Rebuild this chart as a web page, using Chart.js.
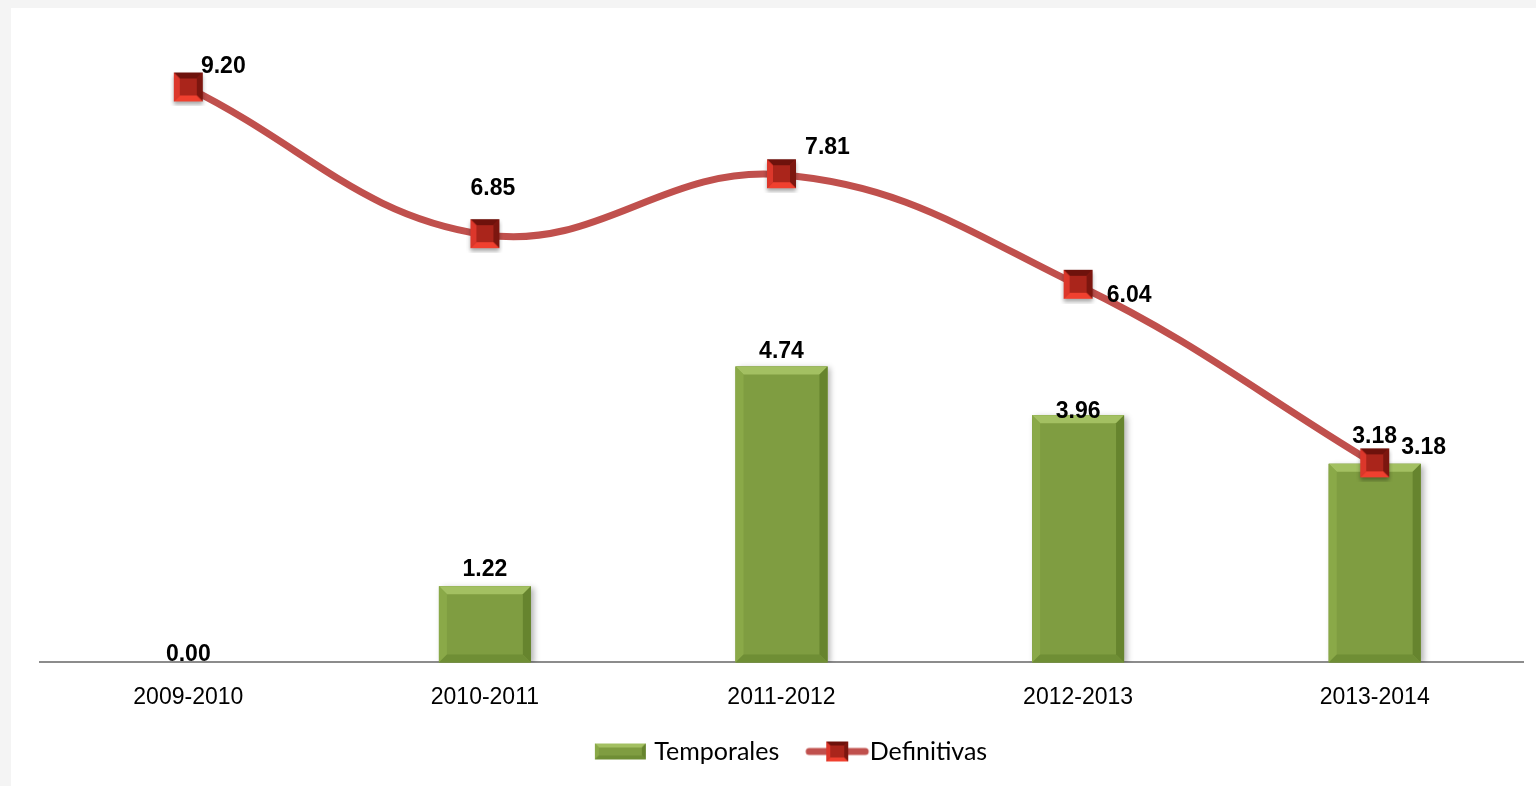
<!DOCTYPE html>
<html>
<head>
<meta charset="utf-8">
<script src="https://cdn.jsdelivr.net/npm/chart.js@4.4.1/dist/chart.umd.min.js"></script>
<style>
  html, body { margin: 0; padding: 0; background: #f4f4f4; }
  #panel { position: absolute; left: 11px; top: 8px; width: 1525px; height: 778px; background: #fff; }
</style>
</head>
<body>
<div id="panel"><canvas id="chart" width="1525" height="778"></canvas></div>
<script>
const categories = ['2009-2010', '2010-2011', '2011-2012', '2012-2013', '2013-2014'];
const temporales = [0.00, 1.22, 4.74, 3.96, 3.18];
const definitivas = [9.20, 6.85, 7.81, 6.04, 3.18];

// label nudges (the Excel labels were moved by hand)
const lineLabelShift = [[35, -21], [8, -46], [46, -27], [51, 10], [49, -16]];
const barLabelLift = [8, 17, 15, 3, 27];

const NARROW = '"Liberation Sans Narrow", "Arial Narrow", "Liberation Sans", Arial, sans-serif';

// bevelled rectangle, four trapezoid edges over a flat face
function bevelRect(ctx, left, top, w, h, b, c) {
    const r = left + w, btm = top + h;
    ctx.fillStyle = c.face;
    ctx.fillRect(left, top, w, h);
    const poly = (pts, col) => {
        ctx.beginPath();
        ctx.moveTo(pts[0], pts[1]);
        for (let i = 2; i < pts.length; i += 2) ctx.lineTo(pts[i], pts[i + 1]);
        ctx.closePath();
        ctx.fillStyle = col;
        ctx.fill();
    };
    poly([left, top, r, top, r - b, top + b, left + b, top + b], c.top);
    poly([left, top, left + b, top + b, left + b, btm - b, left, btm], c.left);
    poly([r, top, r, btm, r - b, btm - b, r - b, top + b], c.right);
    poly([left, btm, r, btm, r - b, btm - b, left + b, btm - b], c.bottom);
}

const greenBevel = { face: '#7f9d41', top: '#a3c062', left: '#8aa948', right: '#66842e', bottom: '#6f8e35' };
const redBevel = { face: '#aa251b', top: '#6e120c', left: '#dc372b', right: '#7c160f', bottom: '#f0402f' };

function makeMarker(size) {
    const c = document.createElement('canvas');
    c.width = size + 8;
    c.height = size + 8;
    const ctx = c.getContext('2d');
    ctx.shadowColor = 'rgba(0,0,0,0.35)';
    ctx.shadowBlur = 4;
    ctx.shadowOffsetY = 3;
    ctx.fillStyle = '#aa251b';
    ctx.fillRect(4, 3, size, size);
    ctx.shadowColor = 'transparent';
    bevelRect(ctx, 4, 3, size, size, Math.round(size * 0.2), redBevel);
    return c;
}

const markerImg = makeMarker(29);

// legend symbols: wide images so they reach out to the left of the legend box
const LEG_W = 130;
const legendBar = document.createElement('canvas');
legendBar.width = LEG_W; legendBar.height = 20;
bevelRect(legendBar.getContext('2d'), 51, 2, 51, 16, 4, greenBevel);

const legendLine = document.createElement('canvas');
legendLine.width = LEG_W; legendLine.height = 26;
(function() {
    const ctx = legendLine.getContext('2d');
    ctx.strokeStyle = '#c0504d';
    ctx.lineWidth = 7;
    ctx.lineCap = 'round';
    ctx.beginPath();
    ctx.moveTo(50, 13);
    ctx.lineTo(106, 13);
    ctx.stroke();
    ctx.fillStyle = '#aa251b';
    ctx.fillRect(67, 3, 22, 20);
    bevelRect(ctx, 67, 3, 22, 20, 4, redBevel);
})();

const barBevelPlugin = {
    id: 'barBevel',
    beforeDatasetDraw(chart, args) {
        if (args.index !== 0) return;
        const ctx = chart.ctx;
        ctx.save();
        ctx.shadowColor = 'rgba(0,0,0,0.3)';
        ctx.shadowBlur = 6;
        ctx.shadowOffsetX = 3;
        ctx.shadowOffsetY = 2;
    },
    afterDatasetDraw(chart, args) {
        if (args.index !== 0) return;
        const ctx = chart.ctx;
        ctx.restore();
        args.meta.data.forEach(el => {
            const p = el.getProps(['x', 'y', 'base', 'width'], true);
            const h = p.base - p.y;
            if (h < 2) return;
            ctx.save();
            bevelRect(ctx, p.x - p.width / 2, p.y, p.width, h, 8, greenBevel);
            ctx.restore();
        });
    }
};

const valueLabelPlugin = {
    id: 'valueLabels',
    afterDatasetsDraw(chart) {
        const ctx = chart.ctx;
        ctx.save();
        ctx.font = 'bold 23px ' + NARROW;
        ctx.fillStyle = '#000';
        ctx.textAlign = 'center';
        ctx.textBaseline = 'middle';
        chart.getDatasetMeta(0).data.forEach((el, i) => {
            ctx.fillText(temporales[i].toFixed(2), el.x, el.y - barLabelLift[i]);
        });
        chart.getDatasetMeta(1).data.forEach((el, i) => {
            const [dx, dy] = lineLabelShift[i];
            ctx.fillText(definitivas[i].toFixed(2), el.x + dx, el.y + dy);
        });
        ctx.restore();
    }
};

const chart = new Chart(document.getElementById('chart').getContext('2d'), {
    data: {
        labels: categories,
        datasets: [{
            type: 'bar',
            label: 'Temporales',
            data: temporales,
            backgroundColor: '#7f9d41',
            barPercentage: 0.31,
            categoryPercentage: 1,
            order: 1
        }, {
            type: 'line',
            label: 'Definitivas',
            data: definitivas,
            borderColor: '#c0504d',
            borderWidth: 7,
            tension: 0.4,
            pointStyle: markerImg,
            clip: false,
            order: 0
        }]
    },
    options: {
        responsive: false,
        animation: false,
        layout: { padding: { left: 29, right: 13, top: 30, bottom: 12 } },
        plugins: {
            tooltip: { enabled: false },
            legend: {
                position: 'bottom',
                labels: {
                    usePointStyle: true,
                    pointStyleWidth: 66,
                    font: { family: 'Lato, "Noto Sans", sans-serif', size: 25 },
                    color: '#000',
                    padding: 12,
                    generateLabels: () => [
                        { text: 'Temporales', pointStyle: legendBar, fontColor: '#000', datasetIndex: 0, lineWidth: 0 },
                        { text: 'Definitivas', pointStyle: legendLine, fontColor: '#000', datasetIndex: 1, lineWidth: 0 }
                    ]
                }
            }
        },
        scales: {
            x: {
                grid: { display: false, drawTicks: false },
                border: { color: '#8c8c8c', width: 2 },
                ticks: { color: '#000', padding: 21, font: { family: NARROW, size: 23 } },
                afterFit(scale) { scale.height -= 5; }
            },
            y: {
                display: false,
                min: 0,
                max: 10
            }
        }
    },
    plugins: [barBevelPlugin, valueLabelPlugin]
});
</script>
</body>
</html>
